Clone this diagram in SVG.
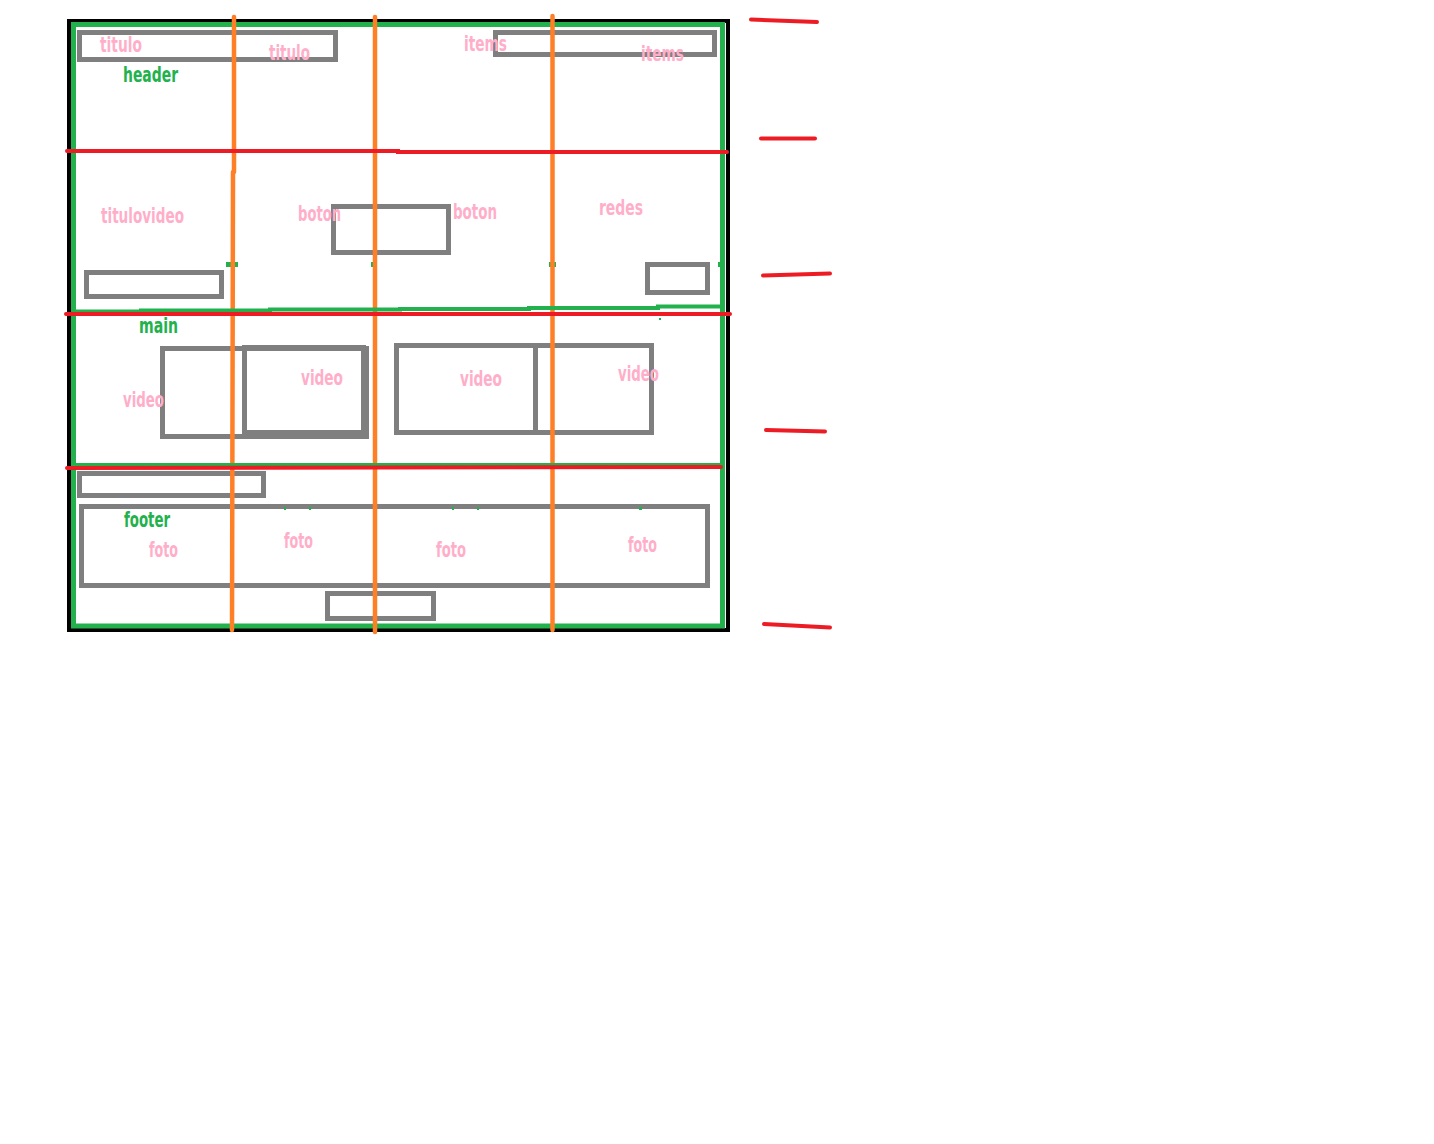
<svg xmlns="http://www.w3.org/2000/svg" width="1434" height="1144" viewBox="0 0 1434 1144">
<style>
.box{fill:none;stroke:#7f7f7f;stroke-width:5}
.pink{fill:#ffaec9}
.grn{fill:#22b14c}
text{font-family:"DejaVu Sans Condensed","DejaVu Sans","Liberation Sans",sans-serif;font-stretch:condensed;font-size:21px;font-weight:bold}
.org{fill:none;stroke:#ff7f27;stroke-width:4.5;stroke-linecap:round;stroke-linejoin:round}
.red{fill:none;stroke:#ed1c24;stroke-width:4;stroke-linecap:round}
.gl{fill:none;stroke:#22b14c;stroke-width:4}
</style>
<rect width="1434" height="1144" fill="#ffffff"/>
<g id="frame">
<rect x="69" y="21" width="659" height="609" fill="none" stroke="#000000" stroke-width="4"/>
<rect x="73.5" y="24.5" width="649" height="601.5" fill="none" stroke="#22b14c" stroke-width="5"/>
</g>
<g id="header">
<rect class="box" x="79.5" y="32.5" width="256" height="27"/>
<rect class="box" x="495.5" y="32.5" width="219" height="22"/>
<text class="pink" x="100" y="52" textLength="42" lengthAdjust="spacingAndGlyphs">titulo</text>
<text class="pink" x="269" y="60" textLength="41" lengthAdjust="spacingAndGlyphs">titulo</text>
<text class="grn" x="123" y="82" textLength="55" lengthAdjust="spacingAndGlyphs">header</text>
<text class="pink" x="464" y="51" textLength="43" lengthAdjust="spacingAndGlyphs">items</text>
<text class="pink" x="641" y="61" textLength="43" lengthAdjust="spacingAndGlyphs">items</text>
</g>
<g id="nav">
<rect class="box" x="333.5" y="206.5" width="115" height="46"/>
<rect class="box" x="86.5" y="272.5" width="135" height="24"/>
<rect class="box" x="647.5" y="264.5" width="60" height="28"/>
<text class="pink" x="101" y="223" textLength="83" lengthAdjust="spacingAndGlyphs">titulovideo</text>
<text class="pink" x="298" y="221" textLength="43" lengthAdjust="spacingAndGlyphs">boton</text>
<text class="pink" x="453" y="219" textLength="44" lengthAdjust="spacingAndGlyphs">boton</text>
<text class="pink" x="599" y="215" textLength="44" lengthAdjust="spacingAndGlyphs">redes</text>
<g fill="#22b14c">
<rect x="73" y="262" width="3" height="5"/>
<rect x="226" y="262" width="12" height="5"/>
<rect x="371" y="262" width="3" height="5"/>
<rect x="549" y="262" width="7" height="5"/>
<rect x="718" y="262" width="4" height="5"/>
</g>
</g>
<g id="main">
<rect class="box" x="162.5" y="348.5" width="204" height="88"/>
<rect class="box" x="244.5" y="347.5" width="119" height="85"/>
<line x1="244" y1="434.5" x2="369" y2="434.5" stroke="#7f7f7f" stroke-width="5"/>
<rect class="box" x="396.5" y="345.5" width="255" height="87"/>
<line x1="535.5" y1="345" x2="535.5" y2="433" stroke="#7f7f7f" stroke-width="5"/>
<text class="grn" x="139" y="333" textLength="39" lengthAdjust="spacingAndGlyphs">main</text>
<text class="pink" x="123" y="407" textLength="41" lengthAdjust="spacingAndGlyphs">video</text>
<text class="pink" x="301" y="385" textLength="42" lengthAdjust="spacingAndGlyphs">video</text>
<text class="pink" x="460" y="386" textLength="42" lengthAdjust="spacingAndGlyphs">video</text>
<text class="pink" x="618" y="381" textLength="41" lengthAdjust="spacingAndGlyphs">video</text>
</g>
<g id="footer">
<rect class="box" x="79.5" y="473.5" width="184" height="22"/>
<rect class="box" x="81.5" y="506.5" width="626" height="79"/>
<rect class="box" x="327.5" y="593.5" width="106" height="25"/>
<text class="grn" x="124" y="527" textLength="46" lengthAdjust="spacingAndGlyphs">footer</text>
<text class="pink" x="149" y="557" textLength="29" lengthAdjust="spacingAndGlyphs">foto</text>
<text class="pink" x="284" y="548" textLength="29" lengthAdjust="spacingAndGlyphs">foto</text>
<text class="pink" x="436" y="557" textLength="30" lengthAdjust="spacingAndGlyphs">foto</text>
<text class="pink" x="628" y="552" textLength="29" lengthAdjust="spacingAndGlyphs">foto</text>
<g fill="#22b14c">
<rect x="284" y="507" width="2" height="3"/>
<rect x="309" y="507" width="2" height="3"/>
<rect x="452" y="507" width="2" height="3"/>
<rect x="477" y="507" width="2" height="3"/>
<rect x="639" y="507" width="3" height="3"/>
<rect x="659" y="318" width="2" height="2"/>
</g>
</g>
<g id="connectors">
<polyline class="org" points="234,17 234,172 233,172 232,630"/>
<line class="org" x1="375" y1="17" x2="375" y2="632"/>
<line class="org" x1="552.5" y1="16" x2="552.5" y2="630"/>
<polyline class="gl" points="73,311.5 141,311.5 141,310.5 270,310.5 270,309.5 400,309.5 400,309 529,309 529,308 658,308 658,306.5 722,306.5"/>
<line class="gl" x1="73" y1="465" x2="722" y2="465"/>
<polyline class="red" points="67,151 398,151 398,152 727,152"/>
<line class="red" x1="66" y1="314" x2="730" y2="314"/>
<line class="red" x1="67" y1="468" x2="721" y2="467"/>
<line class="red" x1="751" y1="19.5" x2="817" y2="22"/>
<line class="red" x1="761" y1="138.5" x2="815" y2="138.5"/>
<line class="red" x1="763" y1="275.5" x2="830" y2="273.5"/>
<line class="red" x1="766" y1="430" x2="825" y2="431.5"/>
<line class="red" x1="764" y1="624" x2="830" y2="627.5"/>
</g>
</svg>
